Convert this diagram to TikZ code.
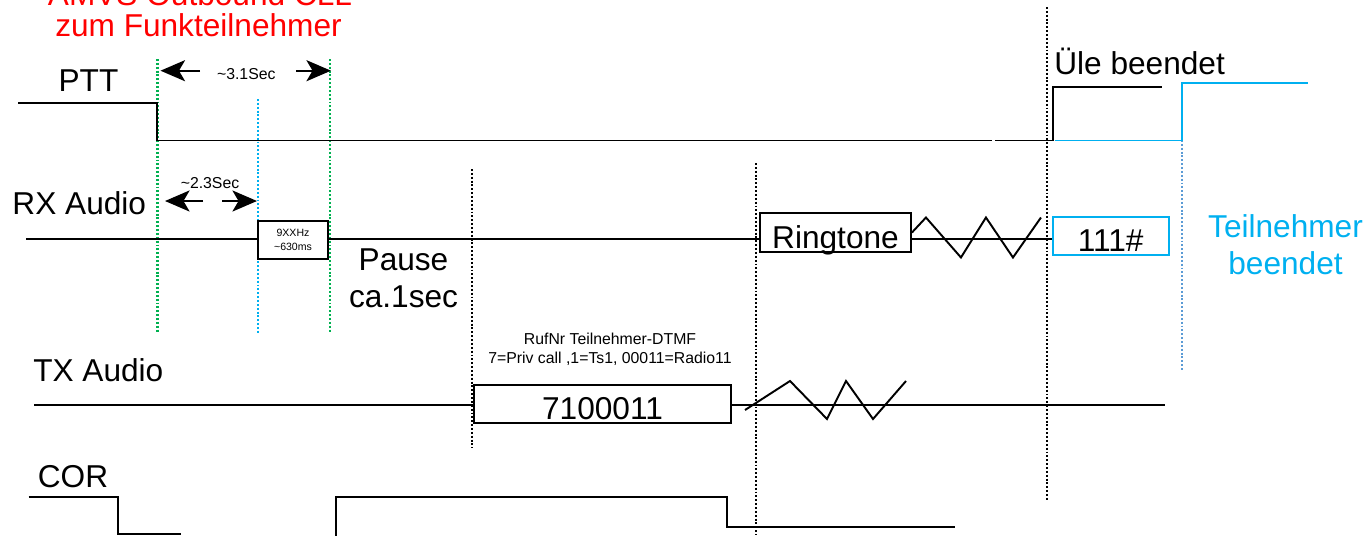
\documentclass[tikz,border=0pt]{standalone}
\usepackage{fontspec}
\setmainfont{Liberation Sans}
\usepackage{xcolor}
\usepackage{tikz}
\usetikzlibrary{arrows.meta, positioning, calc}

\definecolor{callred}{RGB}{255,0,0}
\definecolor{callblue}{RGB}{0,176,240}
\definecolor{callgreen}{RGB}{0,176,80}
\definecolor{endblue}{RGB}{91,155,213}

\begin{document}
\begin{tikzpicture}[x=0.02cm, y=-0.02cm, line width=1.1pt, font=\fontsize{18}{21}\selectfont]
    \tikzstyle{lbl} = [inner sep=0, anchor=base]
    \tikzstyle{small} = [inner sep=0, font=\fontsize{9}{10.4}\selectfont]
    \tikzstyle{box} = [rectangle, draw=black, fill=white, inner sep=0, text height=18pt, text depth=0pt, minimum height=0.76cm]
    \tikzstyle{guide} = [line width=1pt, dash pattern=on 1.1pt off 1.1pt]
    \tikzstyle{arrow} = [-{Stealth[length=14pt, width=12pt, inset=3.5pt]}]

    \clip (0,0) rectangle (1371,535);

    % Guides
    \draw [guide, callgreen, line width=1.2pt] (157.5,59) -- (157.5,332);
    \draw [guide, callgreen, line width=1.2pt] (330,59) -- (330,332);
    \draw [guide, callblue] (258,99) -- (258,333);
    \draw [guide] (472,169) -- (472,448);
    \draw [guide] (756,163) -- (756,535);
    \draw [guide] (1047,7) -- (1047,500);
    \draw [guide, endblue] (1182,140) -- (1182,370);

    % Labels
    \node (head) [lbl, text=callred] at (200,5) {AMVS Outbound CLL};
    \node (sub) [lbl, text=callred] at (198.5,36.7) {zum Funkteilnehmer};
    \node (ptt) [lbl] at (88.5,91.7) {PTT};
    \node (rx) [lbl] at (79.3,214) {RX Audio};
    \node (tx) [lbl] at (98.3,381) {TX Audio};
    \node (cor) [lbl] at (73,487) {COR};
    \node (pause) [align=center, inner sep=0] at (403.5,278) {Pause\\ca.1sec};
    \node (ule) [lbl] at (1139.6,74) {Üle beendet};
    \node (tnend) [align=center, inner sep=0, text=callblue] at (1285.5,244.5) {Teilnehmer\\beendet};
    \node (t31) [small, anchor=base] at (246.3,79.3) {\textasciitilde3.1Sec};
    \node (t23) [small, anchor=base] at (210,188.3) {\textasciitilde2.3Sec};
    \node (ruf) [small, align=center] at (610,349.2) {RufNr Teilnehmer-DTMF\\7=Priv call ,1=Ts1, 00011=Radio11};

    % Boxes
    \node (tone) [draw, fill=white, inner sep=0, minimum width=1.41cm, minimum height=0.77cm, align=center, font=\fontsize{6}{8}\selectfont] at (293,240) {9XXHz\\\textasciitilde630ms};
    \node (ring) [box, minimum width=3.02cm, minimum height=0.78cm] at (835.5,232.5) {Ringtone};
    \node (dtmf) [box, minimum width=5.14cm] at (602.5,404) {7100011};
    \node (ack) [box, draw=callblue, minimum width=2.32cm] at (1110.6,236) {111\#};

    % Arrows
    \coordinate (a31a) at (200,70.7);
    \coordinate (a31b) at (160.5,70.7);
    \coordinate (a31c) at (296,70.7);
    \coordinate (a31d) at (331,70.7);
    \coordinate (a23a) at (203,201);
    \coordinate (a23b) at (165,201);
    \coordinate (a23c) at (222,201);
    \coordinate (a23d) at (257,201);
    \draw [arrow] (a31a) -- (a31b);
    \draw [arrow] (a31c) -- (a31d);
    \draw [arrow] (a23a) -- (a23b);
    \draw [arrow] (a23c) -- (a23d);

    % PTT
    \draw (18,102.7) -- (157.3,102.7) -- (157.3,140.5) -- (992,140.5);
    \draw (995,140.5) -- (1052.6,140.5) -- (1052.6,87) -- (1162,87);
    \draw [callblue] (1054.6,140.5) -- (1182,140.5) -- (1182,83) -- (1308,83);

    % RX Audio
    \coordinate (rx0) at (26,239);
    \draw (rx0) -- (tone.west |- rx0);
    \draw (tone.east |- rx0) -- (ring.west |- rx0);
    \draw (ring.east |- rx0) -- (ack.west |- rx0);
    \draw (ring.east) -- ++(14,-15) -- ++(35,40) -- ++(25,-40) -- ++(27,40) -- ++(28,-40);

    % TX Audio
    \coordinate (tx0) at (34,405);
    \coordinate (tx1) at (1165,405);
    \draw (tx0) -- (dtmf.west |- tx0);
    \draw (dtmf.east |- tx0) -- (tx1);
    \draw (745,410) -- (790,381) -- (827,419) -- (846,381) -- (873,419) -- (906,381);

    % COR
    \draw (28.7,497.3) -- (117.8,497.3) -- (117.8,534) -- (181,534);
    \draw (335.7,536) -- (335.7,497.3) -- (727.4,497.3) -- (727.4,527.3) -- (955,527.3);
\end{tikzpicture}
\end{document}
